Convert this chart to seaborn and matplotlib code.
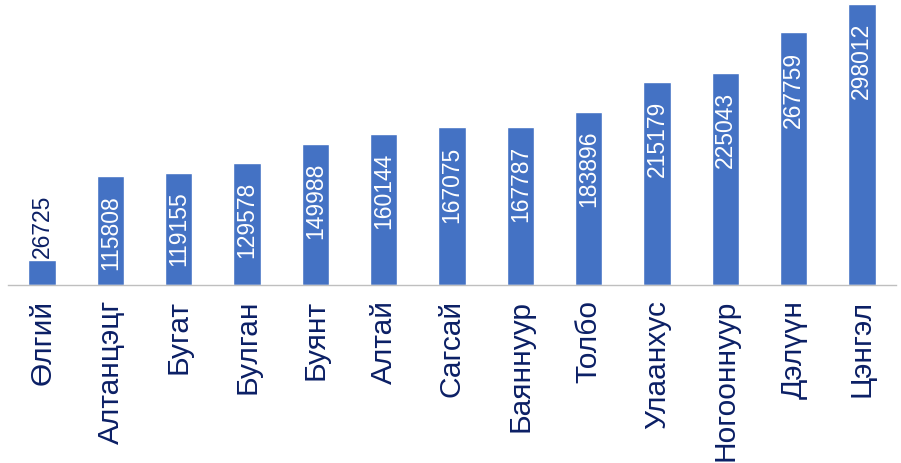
import matplotlib
matplotlib.use("Agg")
import matplotlib.pyplot as plt
import seaborn as sns
import pandas as pd

categories = ["Өлгий", "Алтанцэцг", "Бугат", "Булган", "Буянт", "Алтай", "Сагсай",
              "Баяннуур", "Толбо", "Улаанхус", "Ногооннуур", "Дэлүүн", "Цэнгэл"]
values = [26725, 115808, 119155, 129578, 149988, 160144, 167075,
          167787, 183896, 215179, 225043, 267759, 298012]

df = pd.DataFrame({"sum": categories, "value": values})

sns.set_style("white")
plt.rcParams["font.family"] = ["Liberation Sans", "DejaVu Sans"]

fig = plt.figure(figsize=(9.01, 4.64), dpi=100)
ax = fig.add_axes([8 / 901, 1 - 286 / 464, 888 / 901, 283 / 464])

sns.barplot(data=df, x="sum", y="value", color="#4472C4", saturation=1,
            width=0.4, ax=ax)

ax.set_ylim(0, 300000)
ax.set_xlim(-0.5, len(categories) - 0.5)
ax.set_xlabel("")
ax.set_ylabel("")
ax.set_yticks([])
for side in ["top", "right", "left"]:
    ax.spines[side].set_visible(False)
ax.spines["bottom"].set_color("#BFBFBF")
ax.spines["bottom"].set_linewidth(1)

# tick marks between categories
ax.set_xticks([i - 0.5 for i in range(len(categories) + 1)], minor=True)
ax.tick_params(axis="x", which="minor", length=8, color="#BFBFBF", width=1)
ax.tick_params(axis="x", which="major", length=0, pad=10)
ax.set_xticks(range(len(categories)))
ax.set_xticklabels(categories, rotation=90, fontsize=21.5, color="#0B1F65")

# value labels
for i, v in enumerate(values):
    if v > 60000:
        ax.annotate(str(v), (i, v), xytext=(0, -13), textcoords="offset points",
                    rotation=90, ha="center", va="top", fontsize=16.5, color="white")
    else:
        ax.annotate(str(v), (i, v), xytext=(0, 2), textcoords="offset points",
                    rotation=90, ha="center", va="bottom", fontsize=16.5, color="#0B1F65")

fig.savefig("out.png", dpi=100)
